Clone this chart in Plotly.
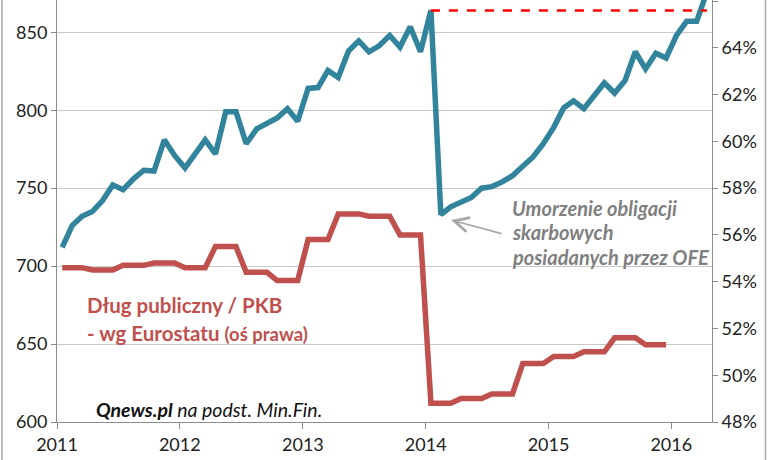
import plotly.graph_objects as go
import pandas as pd

# ---- data -------------------------------------------------------------
months = [d.strftime("%Y-%m-01") for d in pd.date_range("2011-01-01", periods=64, freq="MS")]

# Public debt (left axis, bn PLN)
debt_pln = [712, 726, 732, 735, 742, 752, 749, 756, 761.5, 761,
            781, 771, 763, 772, 781, 772, 799, 799, 778.5, 788,
            791.5, 795, 801, 793, 814, 814.5, 825.5, 821, 838, 844.5,
            837.5, 841.5, 848, 840.5, 853.5, 837.5, 864, 733, 738, 741,
            744, 750, 751, 754, 758, 764, 770, 778.5, 789, 801.5,
            806, 801, 809.5, 817.5, 811, 819, 837.5, 826.5, 836.5, 833.5,
            848, 857, 857, 876]

# Public debt / GDP by Eurostat (right axis, %)
debt_gdp = [54.6, 54.6, 54.6, 54.5, 54.5, 54.5, 54.7, 54.7, 54.7, 54.8, 54.8, 54.8,
            54.6, 54.6, 54.6, 55.5, 55.5, 55.5, 54.4, 54.4, 54.4, 54.05, 54.05, 54.05,
            55.8, 55.8, 55.8, 56.9, 56.9, 56.9, 56.8, 56.8, 56.8, 56.0, 56.0, 56.0,
            48.8, 48.8, 48.8, 49.0, 49.0, 49.0, 49.2, 49.2, 49.2, 50.5, 50.5, 50.5,
            50.8, 50.8, 50.8, 51.0, 51.0, 51.0, 51.6, 51.6, 51.6, 51.3, 51.3, 51.3]

left_ticks = [600, 650, 700, 750, 800, 850]
right_ticks = [48, 50, 52, 54, 56, 58, 60, 62, 64, 66]
right_labels = ["48%", "50%", "52%", "54%", "56%", "58%", "60%", "62%", "64%", "66%"]
year_ticks = ["2011-01-01", "2012-01-01", "2013-01-01", "2014-01-01", "2015-01-01", "2016-01-01"]
year_labels = ["2011", "2012", "2013", "2014", "2015", "2016"]

peak_idx = 36  # level before the OFE bond redemption

# ---- style ------------------------------------------------------------
TEAL = "#31849B"
RED = "#C0504D"
GRID = "#C9C9C9"
AXIS = "#8C8C8C"
FONT = "Lato"

y_lo, y_hi = 600, 870.7
y2_lo = 48
y2_hi = y2_lo + (y_hi - y_lo) / 15.0

fig = go.Figure()
fig.add_trace(go.Scatter(
    x=months, y=debt_pln, mode="lines", yaxis="y",
    xperiod="M1", xperiodalignment="middle",
    line=dict(color=TEAL, width=5.5), hoverinfo="skip"))
fig.add_trace(go.Scatter(
    x=months[:len(debt_gdp)], y=debt_gdp, mode="lines", yaxis="y2",
    xperiod="M1", xperiodalignment="middle",
    line=dict(color=RED, width=5.5), hoverinfo="skip"))
fig.add_trace(go.Scatter(
    x=[months[peak_idx], months[-1]], y=[debt_pln[peak_idx]] * 2,
    mode="lines", yaxis="y",
    xperiod="M1", xperiodalignment="middle",
    line=dict(color="#FF0000", width=2.5, dash="dash"), hoverinfo="skip"))

tick_font = dict(family=FONT, size=18, color="#222222")

fig.update_layout(
    width=768, height=460,
    margin=dict(l=57, r=56, t=0, b=38),
    paper_bgcolor="white", plot_bgcolor="white",
    showlegend=False,
    font=dict(family=FONT),
    xaxis=dict(
        type="date", range=["2011-01-01", "2016-05-01"],
        tickvals=year_ticks, ticktext=year_labels,
        showgrid=False, showline=True, linecolor=AXIS, linewidth=1,
        ticks="outside", ticklen=6, tickcolor=AXIS,
        tickfont=tick_font, zeroline=False),
    yaxis=dict(
        range=[y_lo, y_hi], tickvals=left_ticks,
        showgrid=True, gridcolor=GRID, gridwidth=1,
        showline=True, linecolor=AXIS, linewidth=1,
        ticks="outside", ticklen=5, tickcolor=AXIS,
        tickfont=tick_font, zeroline=False),
    yaxis2=dict(
        range=[y2_lo, y2_hi], tickvals=right_ticks, ticktext=right_labels,
        overlaying="y", side="right",
        showgrid=False, showline=True, linecolor=AXIS, linewidth=1,
        ticks="outside", ticklen=5, tickcolor=AXIS,
        tickfont=tick_font, zeroline=False),
)

def px_x(px):
    return (px - 57) / 655.0

def px_y(py):
    return 1 - py / 422.0

ann = []
gray = "#7F7F7F"
for txt, py in [("Umorzenie obligacji", 208), ("skarbowych", 232), ("posiadanych przez OFE", 257)]:
    ann.append(dict(text="<b><i>%s</i></b>" % txt, xref="paper", yref="paper",
                    x=px_x(510), y=px_y(py), xanchor="left", yanchor="middle",
                    showarrow=False, font=dict(family=FONT, size=20, color=gray)))
# arrow
ann.append(dict(text="", xref="paper", yref="paper", x=px_x(451), y=px_y(220),
                ax=52, ay=14, showarrow=True, arrowhead=5, arrowsize=1.6,
                arrowwidth=1.8, arrowcolor="#A6A6A6"))
# red label
ann.append(dict(text="<b>Dług publiczny / PKB</b>", xref="paper", yref="paper",
                x=px_x(85), y=px_y(305), xanchor="left", yanchor="middle",
                showarrow=False, font=dict(family=FONT, size=20.5, color=RED)))
ann.append(dict(text="<b>- wg Eurostatu </b><span style='font-size:18.5px'><b>(oś prawa)</b></span>",
                xref="paper", yref="paper",
                x=px_x(85), y=px_y(333), xanchor="left", yanchor="middle",
                showarrow=False, font=dict(family=FONT, size=20.5, color=RED)))
# source
ann.append(dict(text="<b><i>Qnews.pl</i></b><i> na podst. Min.Fin.</i>", xref="paper", yref="paper",
                x=px_x(94), y=px_y(409), xanchor="left", yanchor="middle",
                showarrow=False, font=dict(family=FONT, size=19.5, color="#111111")))
fig.update_layout(annotations=ann)

# outer frame lines (chart border)
for px in (2, 765.5):
    fig.add_shape(type="line", xref="paper", yref="paper",
                  x0=px_x(px), x1=px_x(px), y0=px_y(460), y1=px_y(0),
                  line=dict(color="#A6A6A6", width=1.5))

fig.write_html("out.html", config={"displayModeBar": False},
               post_script="document.body.style.margin='0';")
